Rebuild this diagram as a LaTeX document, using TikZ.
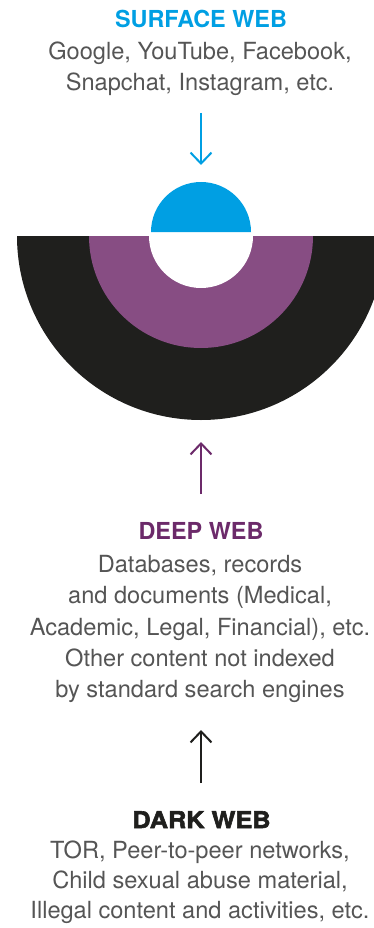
\documentclass[tikz,border=0pt]{standalone}
\usepackage{fontspec}
\setmainfont{TeX Gyre Heros}
\usetikzlibrary{arrows.meta}
\definecolor{sblue}{HTML}{009FE3}
\definecolor{dpurp}{HTML}{6C2A6A}
\definecolor{fpurp}{HTML}{874D83}
\definecolor{dblack}{HTML}{1F1F1D}
\definecolor{tgray}{HTML}{555555}
\begin{document}
\begin{tikzpicture}[x=1pt,y=-1pt,
  title/.style={font=\fontsize{23.4}{27}\selectfont\bfseries, anchor=base, inner sep=0},
  body/.style={font=\fontsize{23.6}{31}\selectfont, text=tgray, anchor=base, inner sep=0},
  arr/.style={line width=2pt, -{Straight Barb[length=11pt,width=21pt]}}]
\useasboundingbox (0,0) rectangle (374,928);
% half discs
\begin{scope}
\clip (0,0) rectangle (374,928);
\fill[dblack] (17,236) arc[start angle=180,end angle=0,radius=184] -- cycle;
\fill[fpurp] (89,236) arc[start angle=180,end angle=0,radius=112] -- cycle;
\fill[white] (149,236) arc[start angle=180,end angle=0,radius=52] -- cycle;
\fill[sblue] (151,232) arc[start angle=180,end angle=360,radius=50] -- cycle;
\end{scope}
% surface web
\node[title, text=sblue] (st) at (201,27.3) {SURFACE WEB};
\node[body] (s1) at (200,60) {Google, YouTube, Facebook,};
\node[body] (s2) at (200,91) {Snapchat, Instagram, etc.};
\coordinate (sa) at (201,113);
\coordinate (sb) at (201,165);
\draw[arr, sblue] (sa) -- (sb);
% deep web
\coordinate (da) at (201,494);
\coordinate (db) at (201,442);
\draw[arr, dpurp] (da) -- (db);
\node[title, text=dpurp] (dt) at (201,539.3) {DEEP WEB};
\node[body] (d1) at (200,572.7) {Databases, records};
\node[body] (d2) at (200,603.5) {and documents (Medical,};
\node[body] (d3) at (200,635) {Academic, Legal, Financial), etc.};
\node[body] (d4) at (200,666.5) {Other content not indexed};
\node[body] (d5) at (200,697.7) {by standard search engines};
% dark web
\coordinate (ka) at (201,783);
\coordinate (kb) at (201,730);
\draw[arr, dblack] (ka) -- (kb);
\node[title, text=dblack, font=\fontsize{23}{27}\selectfont\bfseries\addfontfeature{FakeBold=2.5,FakeStretch=1.1}] (kt) at (201.5,828) {DARK WEB};
\node[body] (k1) at (200,858.3) {TOR, Peer-to-peer networks,};
\node[body] (k2) at (200,888.3) {Child sexual abuse material,};
\node[body] (k3) at (200,918.3) {Illegal content and activities, etc.};
\end{tikzpicture}
\end{document}
